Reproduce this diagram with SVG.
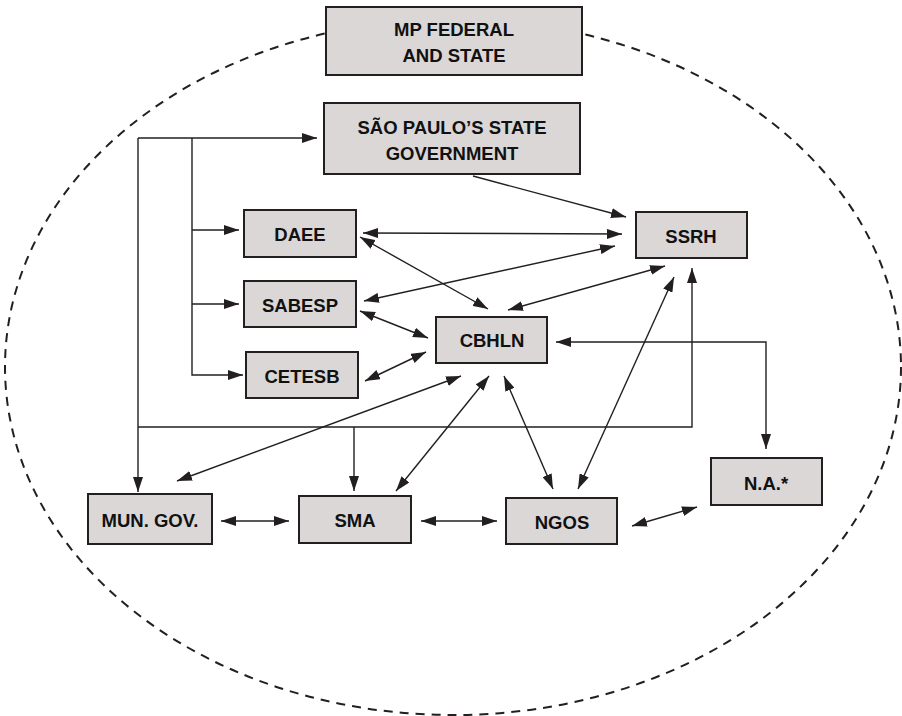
<svg xmlns="http://www.w3.org/2000/svg" width="902" height="716" viewBox="0 0 902 716">
<style>
.box{fill:#dbd7d7;stroke:#231f20;stroke-width:2}
.lbl{font-family:"Liberation Sans",Arial,sans-serif;font-weight:bold;font-size:18.5px;fill:#111;text-anchor:middle}
.c{fill:none;stroke:#231f20;stroke-width:1.4}
.one{marker-end:url(#a)}
.two{marker-start:url(#a);marker-end:url(#a)}
</style>
<defs>
<marker id="a" viewBox="0 0 15 10" refX="15" refY="5" markerWidth="15" markerHeight="10" markerUnits="userSpaceOnUse" orient="auto-start-reverse">
<path d="M0,0 L15,5 L0,10 z" fill="#231f20"/>
</marker>
</defs>
<rect width="902" height="716" fill="#ffffff"/>
<ellipse id="boundary" cx="453" cy="367" rx="448" ry="348" fill="none" stroke="#231f20" stroke-width="2" stroke-dasharray="9 7"/>
<g id="connectors">
<path class="c one" d="M138,138 H317"/>
<path class="c one" d="M138,138 V492"/>
<path class="c one" d="M192,138 V375 H243"/>
<path class="c one" d="M192,230 H239"/>
<path class="c one" d="M192,304 H239"/>
<path class="c one" d="M138,427 H692 V268"/>
<path class="c one" d="M354,427 V491"/>
<path class="c one" d="M473,176 L626,217"/>
<path class="c two" d="M363,233 L622,234"/>
<path class="c two" d="M364,301 L615,246"/>
<path class="c two" d="M508,310 L665,266"/>
<path class="c two" d="M360,237 L488,309"/>
<path class="c two" d="M360,311 L428,338"/>
<path class="c two" d="M365,381 L426,352"/>
<path class="c two" d="M461,376 L177,481"/>
<path class="c two" d="M489,376 L396,491"/>
<path class="c two" d="M504,376 L553,489"/>
<path class="c two" d="M674,277 L578,489"/>
<path class="c two" d="M556,342 H766 V449"/>
<path class="c two" d="M221,521 H289"/>
<path class="c two" d="M421,521 H497"/>
<path class="c two" d="M632,526 L697,507"/>
</g>
<g id="mp">
<rect class="box" x="326" y="7" width="256" height="68"/>
<text class="lbl" x="454" y="36">MP FEDERAL</text>
<text class="lbl" x="454" y="62">AND STATE</text>
</g>
<g id="sp">
<rect class="box" x="324" y="103" width="256" height="71"/>
<text class="lbl" x="452" y="134">SÃO PAULO’S STATE</text>
<text class="lbl" x="452" y="160">GOVERNMENT</text>
</g>
<g id="daee">
<rect class="box" x="244" y="210" width="112" height="47"/>
<text class="lbl" x="300" y="241">DAEE</text>
</g>
<g id="sabesp">
<rect class="box" x="244" y="281" width="112" height="46"/>
<text class="lbl" x="300" y="312">SABESP</text>
</g>
<g id="cetesb">
<rect class="box" x="246" y="352" width="112" height="46"/>
<text class="lbl" x="302" y="383">CETESB</text>
</g>
<g id="cbhln">
<rect class="box" x="436" y="317" width="111" height="46"/>
<text class="lbl" x="492" y="347">CBHLN</text>
</g>
<g id="ssrh">
<rect class="box" x="636" y="212" width="111" height="46"/>
<text class="lbl" x="691" y="243">SSRH</text>
</g>
<g id="na">
<rect class="box" x="711" y="458" width="111" height="47"/>
<text class="lbl" x="766" y="490">N.A.*</text>
</g>
<g id="mun">
<rect class="box" x="88" y="494" width="124" height="50"/>
<text class="lbl" x="150" y="527">MUN. GOV.</text>
</g>
<g id="sma">
<rect class="box" x="299" y="496" width="112" height="47"/>
<text class="lbl" x="355" y="527">SMA</text>
</g>
<g id="ngos">
<rect class="box" x="506" y="498" width="111" height="46"/>
<text class="lbl" x="562" y="529">NGOS</text>
</g>
</svg>
